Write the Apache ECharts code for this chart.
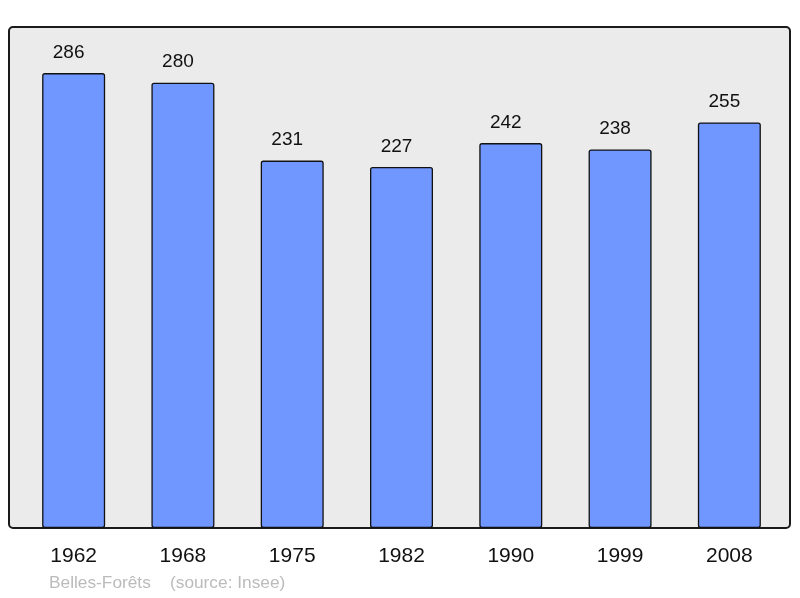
<!DOCTYPE html>
<html>
<head>
<meta charset="utf-8">
<script src="https://cdn.jsdelivr.net/npm/echarts@6/dist/echarts.min.js"></script>
<style>
  html, body { margin: 0; padding: 0; background: #ffffff; }
  #chart { width: 800px; height: 598px; }
</style>
</head>
<body>
<div id="chart"></div>
<script>
var years = ['1962', '1968', '1975', '1982', '1990', '1999', '2008'];
var population = [286, 280, 231, 227, 242, 238, 255];

var chart = echarts.init(document.getElementById('chart'));
var option = {
    animation: false,
    grid: { left: 19, right: 16, top: 27, bottom: 70 },
    graphic: [
        {
            type: 'rect',
            z: -10,
            shape: { x: 9, y: 27, width: 781, height: 501, r: 4 },
            style: { fill: '#ebebeb', stroke: '#1a1a1a', lineWidth: 2 }
        },
        {
            type: 'text',
            x: 49,
            y: 583,
            style: {
                text: 'Belles-Forêts    (source: Insee)',
                fill: '#bbbbbb',
                verticalAlign: 'middle',
                font: '17.3px "Liberation Sans", Arial, sans-serif'
            }
        }
    ],
    xAxis: {
        type: 'category',
        data: years,
        axisLine: { show: false },
        axisTick: { show: false },
        axisLabel: {
            margin: 18,
            color: '#111',
            fontSize: 21,
            fontFamily: '"Liberation Sans", Arial, sans-serif'
        }
    },
    yAxis: {
        type: 'value',
        min: 0,
        max: 315,
        show: false,
        splitLine: { show: false }
    },
    series: [{
        type: 'bar',
        data: population,
        barWidth: 63,
        itemStyle: {
            color: '#7096ff',
            borderColor: '#111',
            borderWidth: 1.3,
            borderRadius: 2
        },
        label: {
            show: true,
            position: 'top',
            distance: 11,
            offset: [-5, 0],
            color: '#111',
            fontSize: 19,
            fontFamily: '"Liberation Sans", Arial, sans-serif'
        }
    }]
};
chart.setOption(option);
window.addEventListener('resize', function () {
    chart.resize();
});
</script>
</body>
</html>
